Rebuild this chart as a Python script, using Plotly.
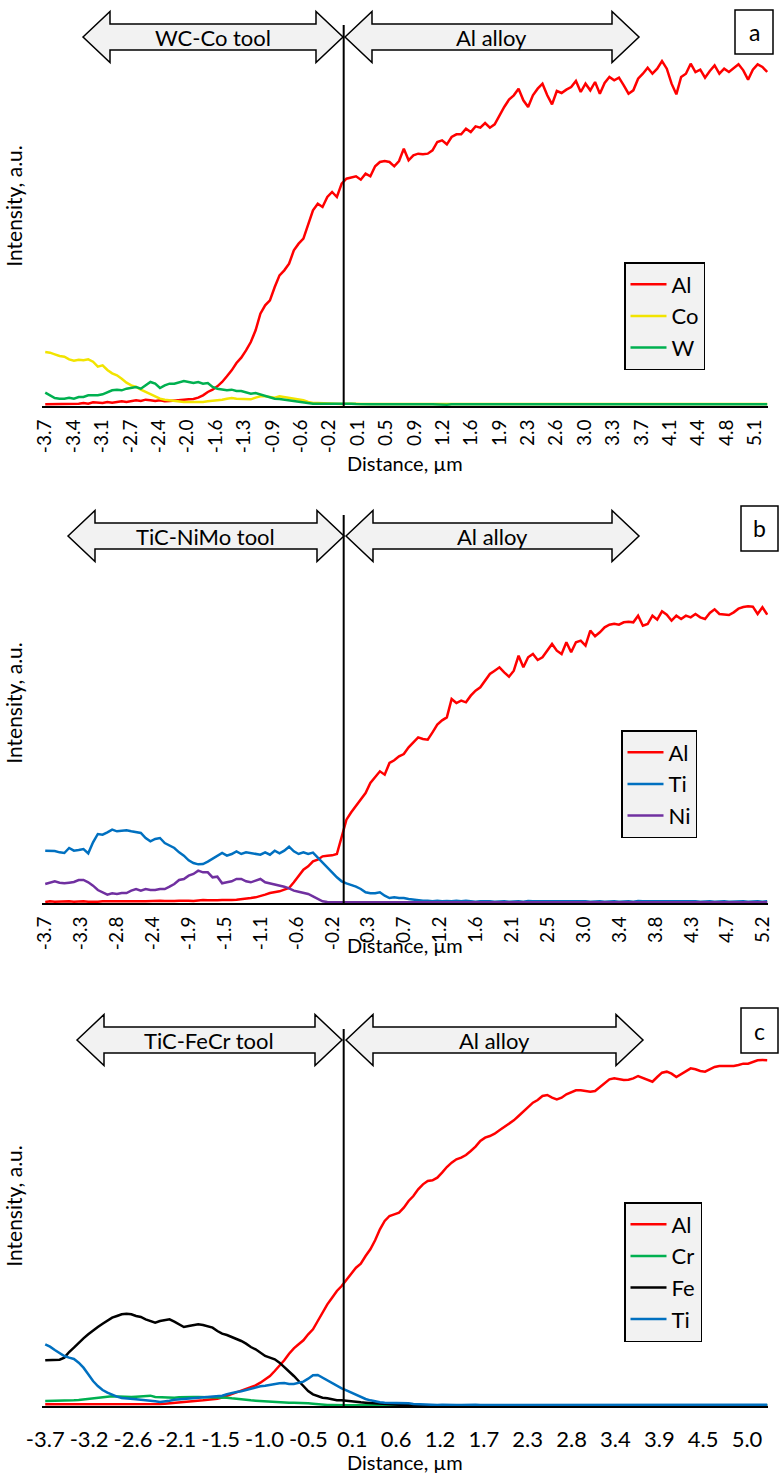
import numpy as np
import plotly.graph_objects as go

W, H = 782, 1476

# EDS line-scan positions (µm), evenly spaced scan points
distance_um = np.linspace(-3.70, 5.25, 152)

# ---------------- panel a : WC-Co tool ----------------
al_a = [5, 5, 7, 5, 7, 6, 7, 7, 9, 7,
        11, 9, 9, 12, 10, 12, 14, 12, 14, 17,
        15, 19, 17, 15, 17, 14, 15, 17, 17, 19,
        20, 21, 25, 32, 42, 49, 59, 72, 89, 107,
        129, 145, 167, 192, 227, 277, 302, 317, 357, 392,
        407, 427, 467, 487, 502, 542, 587, 607, 597, 627,
        642, 627, 667, 682, 685, 689, 679, 697, 689, 719,
        732, 735, 732, 719, 735, 772, 737, 752, 757, 755,
        757, 767, 792, 797, 785, 807, 815, 815, 832, 822,
        839, 835, 849, 835, 845, 872, 897, 919, 932, 952,
        917, 897, 932, 952, 967, 932, 905, 945, 939, 949,
        957, 975, 942, 967, 947, 972, 937, 969, 987, 977,
        985, 962, 937, 947, 982, 997, 1015, 997, 1012, 1035,
        1012, 967, 935, 987, 997, 1027, 1002, 1009, 985, 1005,
        1022, 997, 1012, 1002, 1015, 1025, 1007, 979, 1009, 1025,
        1017, 1002]
co_a = [162, 160, 155, 150, 148, 140, 136, 139, 137, 140,
        133, 118, 122, 108, 98, 92, 82, 70, 62, 57,
        49, 42, 35, 28, 22, 19, 17, 15, 14, 12,
        12, 12, 11, 12, 14, 15, 17, 19, 22, 24,
        22, 22, 22, 20, 25, 29, 29, 27, 25, 29,
        27, 25, 22, 19, 17, 12, 9, 9, 8, 7,
        6, 7, 6, 7, 8, 7, 6, 6, 7, 6,
        6, 5, 6, 7, 6, 5, 6, 6, 7, 6,
        5, 6, 7, 6, 6, 5, 6, 7, 6, 5,
        6, 6, 5, 6, 7, 6, 6, 5, 6, 6,
        7, 6, 5, 6, 6, 7, 6, 5, 6, 6,
        6, 7, 6, 5, 6, 6, 7, 6, 6, 5,
        6, 6, 7, 6, 5, 6, 6, 7, 6, 6,
        5, 6, 6, 7, 6, 5, 6, 6, 7, 6,
        6, 5, 6, 6, 7, 6, 5, 6, 6, 7,
        6, 6]
w_a = [40, 32, 24, 22, 22, 25, 22, 27, 27, 32,
       32, 32, 35, 42, 47, 49, 47, 52, 54, 57,
       52, 62, 72, 67, 54, 62, 67, 67, 72, 75,
       72, 69, 72, 67, 69, 57, 52, 49, 47, 49,
       45, 45, 42, 37, 39, 35, 29, 25, 22, 21,
       19, 17, 15, 12, 9, 7, 7, 7, 7, 7,
       8, 7, 8, 9, 7, 6, 5, 4, 5, 5,
       4, 5, 5, 4, 5, 5, 4, 5, 5, 4,
       5, 5, 4, 5, 4, 5, 5, 4, 5, 5,
       4, 5, 5, 5, 4, 5, 4, 5, 5, 4,
       5, 5, 4, 5, 5, 4, 5, 5, 4, 5,
       5, 4, 5, 5, 4, 5, 4, 5, 5, 4,
       5, 5, 4, 5, 5, 4, 5, 5, 4, 5,
       4, 5, 5, 4, 5, 5, 4, 5, 5, 4,
       5, 5, 4, 5, 5, 4, 5, 4, 5, 5,
       4, 5]

# ---------------- panel b : TiC-NiMo tool ----------------
al_b = [3, 5, 4, 5, 6, 5, 4, 5, 5, 4,
        3, 4, 5, 4, 5, 5, 4, 5, 5, 6,
        5, 5, 6, 5, 7, 6, 5, 6, 7, 8,
        7, 6, 8, 9, 8, 7, 8, 9, 8, 9,
        10, 11, 13, 15, 17, 20, 25, 30, 32, 35,
        40, 45, 62, 80, 100, 110, 125, 130, 140, 142,
        143, 147, 200, 250, 272, 292, 312, 330, 360, 378,
        395, 385, 420, 428, 440, 447, 467, 482, 497, 492,
        490, 512, 535, 548, 557, 612, 600, 607, 602, 622,
        637, 647, 667, 687, 697, 707, 692, 679, 697, 742,
        707, 737, 747, 729, 737, 759, 777, 757, 747, 782,
        752, 782, 787, 772, 817, 800, 812, 827, 835, 838,
        835, 842, 844, 842, 862, 832, 837, 862, 850, 875,
        865, 847, 862, 852, 862, 857, 867, 857, 852, 870,
        881, 867, 865, 864, 872, 883, 888, 890, 889, 867,
        887, 865]
ti_b = [157, 157, 156, 152, 150, 165, 157, 159, 162, 149,
        182, 207, 205, 212, 220, 215, 217, 218, 215, 213,
        210, 195, 185, 192, 195, 180, 173, 165, 152, 142,
        128, 120, 116, 117, 124, 132, 140, 150, 142, 147,
        155, 147, 152, 149, 147, 145, 152, 145, 157, 149,
        157, 169, 155, 147, 152, 147, 151, 137, 122, 107,
        92, 77, 65, 59, 55, 49, 42, 32, 29, 29,
        32, 22, 15, 17, 15, 15, 12, 10, 9, 7,
        7, 5, 7, 5, 6, 5, 7, 5, 7, 5,
        4, 5, 6, 5, 4, 5, 5, 4, 5, 5,
        4, 6, 5, 4, 5, 5, 4, 5, 5, 4,
        5, 5, 6, 5, 4, 5, 5, 4, 5, 5,
        4, 5, 5, 4, 6, 5, 4, 5, 5, 4,
        5, 5, 4, 5, 5, 6, 5, 4, 5, 5,
        4, 5, 5, 4, 5, 6, 5, 4, 5, 5,
        4, 5]
ni_b = [57, 62, 65, 61, 59, 61, 63, 69, 69, 62,
        52, 39, 32, 25, 29, 27, 30, 30, 37, 42,
        37, 42, 39, 39, 42, 42, 49, 57, 69, 72,
        82, 87, 97, 92, 92, 77, 79, 59, 62, 65,
        72, 72, 65, 62, 67, 72, 62, 59, 57, 52,
        49, 44, 37, 34, 31, 27, 20, 12, 5, 3,
        3, 2, 3, 3, 2, 3, 2, 3, 3, 2,
        3, 2, 3, 3, 2, 3, 2, 3, 3, 2,
        3, 2, 3, 3, 2, 3, 2, 3, 3, 2,
        3, 2, 3, 3, 2, 3, 2, 3, 3, 2,
        3, 2, 3, 3, 2, 3, 2, 3, 3, 2,
        3, 2, 3, 3, 2, 3, 2, 3, 3, 2,
        3, 2, 3, 3, 2, 3, 2, 3, 3, 2,
        3, 2, 3, 3, 2, 3, 2, 3, 3, 2,
        3, 2, 3, 3, 2, 3, 2, 3, 3, 2,
        3, 2]

# ---------------- panel c : TiC-FeCr tool ----------------
al_c = [5, 5, 4, 5, 5, 5, 4, 5, 5, 5,
        4, 5, 5, 5, 4, 4, 5, 5, 5, 5,
        5, 6, 5, 6, 6, 7, 8, 10, 11, 12,
        14, 15, 16, 17, 19, 20, 22, 25, 30, 35,
        40, 45, 50, 55, 62, 70, 80, 90, 105, 120,
        137, 157, 173, 185, 197, 215, 230, 255, 280, 305,
        325, 345, 360, 380, 397, 415, 427, 450, 470, 497,
        530, 555, 570, 575, 580, 595, 615, 630, 650, 665,
        675, 677, 685, 700, 717, 730, 740, 745, 753, 765,
        778, 795, 805, 810, 817, 827, 837, 847, 857, 870,
        883, 897, 910, 918, 930, 933, 925, 920, 925, 935,
        940, 947, 947, 945, 943, 945, 957, 970, 980, 983,
        981, 978, 979, 983, 990, 985, 978, 973, 987, 1000,
        1003, 997, 987, 995, 1005, 1013, 1010, 1005, 1003, 1010,
        1017, 1020, 1020, 1020, 1020, 1023, 1027, 1027, 1032, 1037,
        1038, 1037]
cr_c = [15, 15, 17, 16, 15, 16, 17, 18, 20, 21,
        23, 25, 27, 28, 29, 28, 28, 27, 27, 28,
        29, 30, 31, 27, 26, 25, 25, 25, 26, 27,
        27, 27, 27, 27, 27, 27, 27, 27, 25, 23,
        21, 20, 18, 17, 16, 15, 13, 12, 11, 11,
        10, 10, 10, 10, 9, 8, 7, 5, 4, 3,
        3, 2, 3, 2, 2, 3, 2, 3, 2, 2,
        3, 2, 2, 3, 2, 3, 2, 2, 3, 2,
        2, 3, 2, 3, 2, 2, 3, 2, 2, 3,
        2, 3, 2, 2, 3, 2, 3, 2, 2, 3,
        2, 2, 3, 2, 3, 2, 2, 3, 2, 2,
        3, 2, 3, 2, 2, 3, 2, 2, 3, 2,
        3, 2, 2, 3, 2, 3, 2, 2, 3, 2,
        2, 3, 2, 3, 2, 2, 3, 2, 2, 3,
        2, 3, 2, 2, 3, 2, 3, 2, 2, 3,
        2, 2]
fe_c = [137, 137, 138, 139, 145, 162, 175, 190, 203, 215,
        227, 237, 247, 257, 265, 270, 275, 277, 275, 270,
        267, 260, 255, 250, 255, 257, 260, 253, 245, 237,
        240, 243, 245, 243, 240, 235, 225, 217, 213, 207,
        203, 195, 187, 177, 170, 160, 150, 145, 140, 130,
        117, 105, 90, 75, 60, 45, 35, 29, 25, 23,
        20, 17, 17, 15, 14, 12, 11, 10, 9, 8,
        7, 5, 4, 3, 2, 2, 2, 2, 2, 2,
        2, 2, 2, 2, 2, 2, 2, 2, 2, 2,
        2, 2, 2, 2, 2, 2, 2, 2, 2, 2,
        2, 2, 2, 2, 2, 2, 2, 2, 2, 2,
        2, 2, 2, 2, 2, 2, 2, 2, 2, 2,
        2, 2, 2, 2, 2, 2, 2, 2, 2, 2,
        2, 2, 2, 2, 2, 2, 2, 2, 2, 2,
        2, 2, 2, 2, 2, 2, 2, 2, 2, 2,
        2, 2]
ti_c = [185, 178, 168, 158, 150, 145, 141, 130, 115, 95,
        75, 60, 48, 40, 33, 28, 24, 22, 21, 20,
        19, 18, 16, 14, 12, 13, 16, 19, 20, 21,
        22, 24, 25, 25, 26, 27, 29, 31, 35, 39,
        42, 44, 48, 52, 55, 59, 61, 64, 66, 68,
        69, 66, 66, 69, 73, 82, 92, 93, 85, 76,
        69, 61, 53, 47, 40, 33, 26, 21, 17, 13,
        11, 10, 10, 10, 10, 9, 8, 6, 5, 5,
        5, 4, 3, 4, 3, 4, 3, 3, 4, 3,
        4, 3, 3, 4, 3, 4, 3, 4, 3, 3,
        4, 3, 4, 3, 3, 4, 3, 4, 3, 4,
        3, 3, 4, 3, 4, 3, 3, 4, 3, 4,
        3, 4, 3, 3, 4, 3, 4, 3, 3, 4,
        3, 4, 3, 4, 3, 3, 4, 3, 4, 3,
        3, 4, 3, 4, 3, 3, 4, 3, 4, 3,
        3, 4]

ticks_a = ["-3.7", "-3.4", "-3.1", "-2.7", "-2.4", "-2.0", "-1.6", "-1.3", "-0.9",
           "-0.6", "-0.2", "0.1", "0.5", "0.9", "1.2", "1.6", "1.9", "2.3", "2.6",
           "3.0", "3.3", "3.7", "4.1", "4.4", "4.8", "5.1"]
ticks_b = ["-3.7", "-3.3", "-2.8", "-2.4", "-1.9", "-1.5", "-1.1", "-0.6", "-0.2",
           "0.3", "0.7", "1.2", "1.6", "2.1", "2.5", "3.0", "3.4", "3.8", "4.3",
           "4.7", "5.2"]
ticks_c = ["-3.7", "-3.2", "-2.6", "-2.1", "-1.5", "-1.0", "-0.5", "0.1", "0.6",
           "1.2", "1.7", "2.3", "2.8", "3.4", "3.9", "4.5", "5.0"]

panels = [
    dict(series=[("Al", al_a, "#FF0000"), ("Co", co_a, "#F2E400"), ("W", w_a, "#00B050")],
         ticks=ticks_a, tool="WC-Co tool", letter="a"),
    dict(series=[("Al", al_b, "#FF0000"), ("Ti", ti_b, "#0070C0"), ("Ni", ni_b, "#7030A0")],
         ticks=ticks_b, tool="TiC-NiMo tool", letter="b"),
    dict(series=[("Al", al_c, "#FF0000"), ("Cr", cr_c, "#00B050"), ("Fe", fe_c, "#000000"),
                 ("Ti", ti_c, "#0070C0")],
         ticks=ticks_c, tool="TiC-FeCr tool", letter="c"),
]

# ---------------- layout geometry (pixels) ----------------
FONT = "Lato"
X_LEFT, X_RIGHT = 42, 768
base_px = [406, 903, 1406]          # baseline of each panel
top_px = [6, 503, 1006]             # top of each plot area
vline_top = [25, 515, 1029]
arrow_geo = [  # (left tip, junction-left, junction-right, right tip, centre y)
    (83, 343, 345, 639, 37),
    (68, 344, 346, 639, 536),
    (77, 342, 346, 643, 1040),
]
letter_box = [(735, 10, 773, 54), (741, 506, 778, 551), (741, 1008, 778, 1053)]
legend_pos = [(624, 262), (621, 730), (624, 1202)]
xtitle_y = [463, 945, 1462]
tick_angle = [-90, -90, 0]
tick_font = [19, 19, 22]
tick_standoff = [4, 4, 13]


def px(x):
    return x / W


def py(y):
    return 1 - y / H


def double_arrow(x0, x1, yc, hh=25.5, sh=13, hl=27):
    pts = [(x0, yc), (x0 + hl, yc - hh), (x0 + hl, yc - sh), (x1 - hl, yc - sh),
           (x1 - hl, yc - hh), (x1, yc), (x1 - hl, yc + hh), (x1 - hl, yc + sh),
           (x0 + hl, yc + sh), (x0 + hl, yc + hh)]
    path = "M " + " L ".join(f"{px(a):.5f},{py(b):.5f}" for a, b in pts) + " Z"
    return dict(type="path", path=path, xref="paper", yref="paper",
                fillcolor="#F2F2F2", line=dict(color="black", width=1.5))


fig = go.Figure()
layout = dict(
    width=W, height=H, margin=dict(l=0, r=0, t=0, b=0),
    paper_bgcolor="white", plot_bgcolor="rgba(0,0,0,0)",
    font=dict(family=FONT, color="black", size=20),
    shapes=[], annotations=[],
)

for k, p in enumerate(panels):
    sfx = "" if k == 0 else str(k + 1)
    leg = "legend" if k == 0 else f"legend{k + 1}"
    for name, vals, col in p["series"]:
        fig.add_trace(go.Scatter(
            x=distance_um, y=vals, name=name, mode="lines",
            line=dict(color=col, width=2.5),
            xaxis="x" + sfx, yaxis="y" + sfx, legend=leg, legendgroup=f"{k}{name}",
        ))
    labels = p["ticks"]
    tv = np.linspace(float(labels[0]), float(labels[-1]), len(labels))
    layout["xaxis" + sfx] = dict(
        domain=[px(X_LEFT), px(X_RIGHT)], range=[-3.74, 5.26],
        anchor="y" + sfx, showgrid=False, zeroline=False,
        showline=True, linecolor="black", linewidth=2,
        tickmode="array", tickvals=tv, ticktext=labels,
        tickangle=tick_angle[k], tickfont=dict(size=tick_font[k], family=FONT),
        ticks="", ticklabelstandoff=tick_standoff[k],
        automargin=False,
    )
    layout["yaxis" + sfx] = dict(
        domain=[py(base_px[k]), py(top_px[k])], range=[0, 1200],
        anchor="x" + sfx, showgrid=False, zeroline=False, showline=False,
        showticklabels=False, ticks="",
        title=dict(text="Intensity, a.u.", font=dict(size=21, family=FONT), standoff=12),
        automargin=False,
    )
    # x-axis title, placed where the reference shows it
    layout["annotations"].append(dict(
        x=px((X_LEFT + X_RIGHT) / 2), y=py(xtitle_y[k]), xref="paper", yref="paper",
        text="Distance, µm", showarrow=False, font=dict(size=20, family=FONT),
        xanchor="center", yanchor="middle"))
    lx, ly = legend_pos[k]
    layout[leg] = dict(
        x=px(lx), y=py(ly), xanchor="left", yanchor="top",
        bgcolor="#F2F2F2", bordercolor="black", borderwidth=1.5,
        font=dict(size=22, family=FONT), tracegroupgap=0, itemwidth=36,
    )
    # arrows
    x0, j0, j1, x1, yc = arrow_geo[k]
    layout["shapes"].append(double_arrow(x0, j0, yc))
    layout["shapes"].append(double_arrow(j1, x1, yc))
    layout["annotations"].append(dict(
        x=px((x0 + j0) / 2), y=py(yc), xref="paper", yref="paper", text=p["tool"],
        showarrow=False, font=dict(size=22, family=FONT), xanchor="center", yanchor="middle"))
    layout["annotations"].append(dict(
        x=px((j1 + x1) / 2), y=py(yc), xref="paper", yref="paper", text="Al alloy",
        showarrow=False, font=dict(size=22, family=FONT), xanchor="center", yanchor="middle"))
    # interface line
    layout["shapes"].append(dict(
        type="line", xref="x" + sfx, yref="paper", x0=0, x1=0,
        y0=py(base_px[k]), y1=py(vline_top[k]), line=dict(color="black", width=2)))
    # panel letter box
    bx0, by0, bx1, by1 = letter_box[k]
    layout["shapes"].append(dict(
        type="rect", xref="paper", yref="paper", x0=px(bx0), x1=px(bx1),
        y0=py(by1), y1=py(by0), line=dict(color="black", width=1.5), fillcolor="white"))
    layout["annotations"].append(dict(
        x=px((bx0 + bx1) / 2), y=py((by0 + by1) / 2), xref="paper", yref="paper",
        text=p["letter"], showarrow=False, font=dict(size=23, family=FONT),
        xanchor="center", yanchor="middle"))

fig.update_layout(**layout)
fig.write_html("out.html")
